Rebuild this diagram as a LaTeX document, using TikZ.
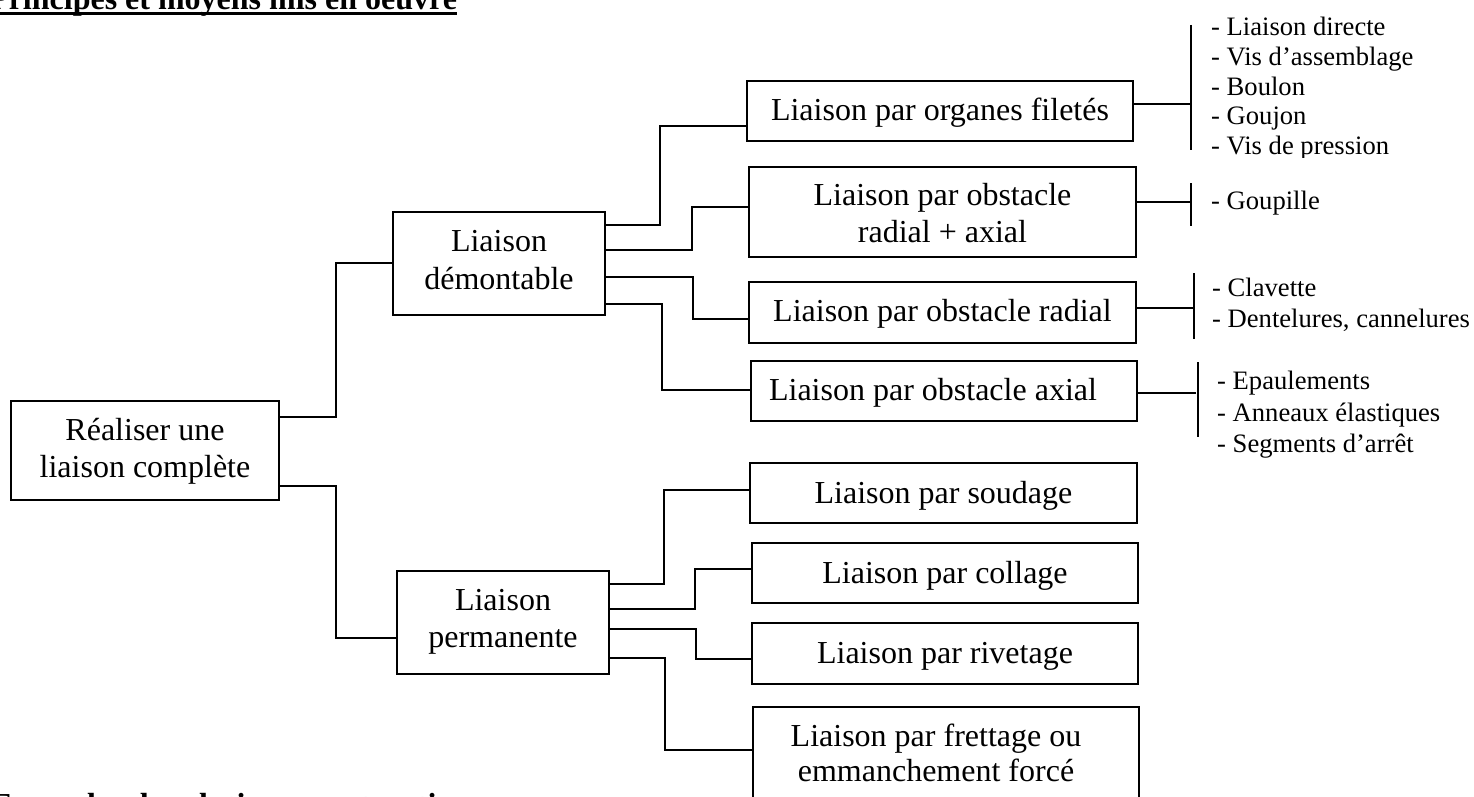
\documentclass[tikz,border=0pt]{standalone}
\usepackage{fontspec}
\setmainfont{Liberation Serif}
\usetikzlibrary{calc}
\newcommand\twolines[3]{\vbox{\baselineskip=#1pt\lineskiplimit=-100pt\halign{\hfil##\hfil\cr#2\cr#3\cr}}}
\begin{document}
\begin{tikzpicture}[x=1pt,y=-1pt,
  box/.style={draw, line width=2pt, rectangle, inner sep=0pt, outer sep=0pt, font=\fontsize{32}{37}\selectfont, text depth=0pt},
  listitem/.style={anchor=base west, inner sep=0pt, font=\fontsize{26.6}{30}\selectfont},
  conn/.style={line width=2pt},
  headline/.style={anchor=base west, inner sep=0pt, font=\fontsize{32}{37}\selectfont\bfseries}]
\useasboundingbox (0,0) rectangle (1474,797);
\fill[white] (0,0) rectangle (1474,797);
\clip (0,0) rectangle (1474,797);

% title and bottom heading (cut by the page edges)
\node[headline] (title) at (-11,10) {Principes et moyens mis en oeuvre};
\draw[line width=3pt] ([yshift=-3.5pt]title.base west) -- ([yshift=-3.5pt]title.base east);
\node[headline] (bottom) at (-9,815) {Exemples de solutions constructives};

% boxes
\node[box, minimum width=268pt, minimum height=99pt, text height=53.6pt] (root) at (145,450.5) {\twolines{36.6}{Réaliser une}{liaison complète}};
\node[box, minimum width=212pt, minimum height=103pt, text height=51pt] (dem) at (499,263.5) {\twolines{37.3}{Liaison}{démontable}};
\node[box, minimum width=212pt, minimum height=103pt, text height=49.6pt] (perm) at (503,622.5) {\twolines{36.6}{Liaison}{permanente}};

\node[box, minimum width=386pt, minimum height=60pt, text height=20pt] (org) at (940,111) {Liaison par organes filetés};
\node[box, minimum width=387pt, minimum height=90pt, text height=60.6pt] (radax) at (942.5,212) {\twolines{36.6}{Liaison par obstacle}{radial + axial}};
\node[box, minimum width=387pt, minimum height=61pt, text height=17pt] (rad) at (942.5,312.5) {Liaison par obstacle radial};
\node[box, minimum width=386pt, minimum height=60pt, text height=18pt] (ax) at (944,391) {Liaison par obstacle axial\hspace*{22pt}};

\node[box, minimum width=387pt, minimum height=60pt, text height=20.6pt] (soud) at (943.5,493) {Liaison par soudage};
\node[box, minimum width=386pt, minimum height=60pt, text height=20.6pt] (coll) at (945,573) {Liaison par collage};
\node[box, minimum width=386pt, minimum height=61pt, text height=19.6pt] (riv) at (945,653.5) {Liaison par rivetage};
\node[box, minimum width=386pt, minimum height=94pt, text height=55.4pt] (fret) at (946,754) {\twolines{35}{Liaison par frettage ou}{emmanchement forcé}\hspace*{20pt}};

% connectors left part
\draw[conn] ($(root.east)+(0,-33.5)$) -- ++(57,0) |- ($(dem.west)+(0,-0.5)$);
\draw[conn] ($(root.east)+(0,35.5)$) -- ++(57,0) |- ($(perm.west)+(0,15.5)$);

\draw[conn] ($(dem.east)+(0,-38.5)$) -- ++(55,0) |- ($(org.west)+(0,15)$);
\draw[conn] ($(dem.east)+(0,-13.5)$) -- ++(87,0) |- ($(radax.west)+(0,-5)$);
\draw[conn] ($(dem.east)+(0,13.5)$) -- ++(88,0) |- ($(rad.west)+(0,6.5)$);
\draw[conn] ($(dem.east)+(0,40.5)$) -- ++(57,0) |- ($(ax.west)+(0,-1)$);

\draw[conn] ($(perm.east)+(0,-38.5)$) -- ++(55,0) |- ($(soud.west)+(0,-3)$);
\draw[conn] ($(perm.east)+(0,-13.5)$) -- ++(86,0) |- ($(coll.west)+(0,-4)$);
\draw[conn] ($(perm.east)+(0,6.8)$) -- ++(87,0) |- ($(riv.west)+(0,5.5)$);
\draw[conn] ($(perm.east)+(0,35.5)$) -- ++(56,0) |- ($(fret.west)+(0,-4)$);

% right brackets
\coordinate (b1) at (1191,104);
\coordinate (b2) at (1191,202);
\coordinate (b3) at (1194,308);
\coordinate (b4) at (1196,393);
\draw[conn] ($(org.east)+(0,-7)$) -- (b1);
\draw[conn] ($(radax.east)+(0,-10)$) -- (b2);
\draw[conn] ($(rad.east)+(0,-4.5)$) -- (b3);
\draw[conn] ($(ax.east)+(0,2)$) -- (b4);
\draw[conn] (1191,25) -- (1191,150);
\draw[conn] (1191,183) -- (1191,226);
\draw[conn] (1194,273) -- (1194,339);
\draw[conn] (1198,362) -- (1198,437);

% lists
\node[listitem] (l1) at (1211,36) {- Liaison directe};
\node[listitem] (l2) at (1211,65.6) {- Vis d’assemblage};
\node[listitem] (l3) at (1211,95.2) {- Boulon};
\node[listitem] (l4) at (1211,124.8) {- Goujon};
\begin{scope}
\clip (1200,130) rectangle (1474,157);
\node[listitem] (l5) at (1211,154.4) {- Vis de pression};
\end{scope}
\node[listitem] (g1) at (1211,209) {- Goupille};
\node[listitem] (c1) at (1212,296) {- Clavette};
\node[listitem] (c2) at (1212,327) {- Dentelures, cannelures};
\node[listitem] (e1) at (1217,389) {- Epaulements};
\node[listitem] (e2) at (1217,421.6) {- Anneaux élastiques};
\node[listitem] (e3) at (1217,452.6) {- Segments d’arrêt};
\end{tikzpicture}
\end{document}
